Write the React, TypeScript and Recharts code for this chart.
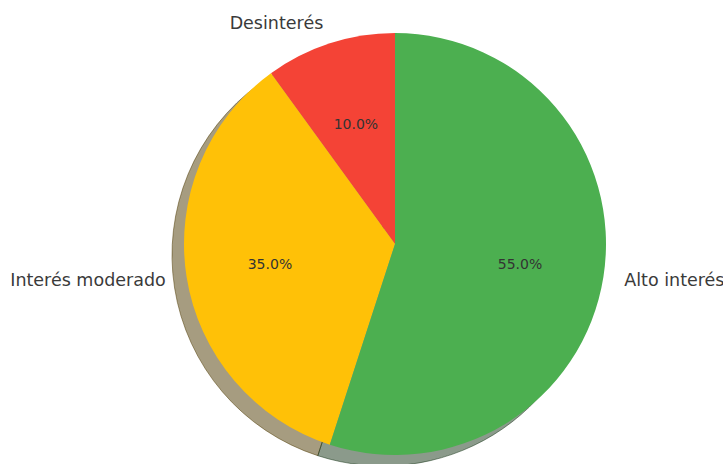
import React, { ReactElement } from "react";
import { PieChart, Pie, Cell } from "recharts";

// order is counterclockwise from the top, like the source
const categories = ["Desinterés", "Interés moderado", "Alto interés"];
const shares = [10, 35, 55];
const colors = ["#f44336", "#ffc107", "#4caf50"];

const data = categories.map((name, i) => ({ name, value: shares[i] }));

const RADIAN = Math.PI / 180;
const CX = 395;
const CY = 244;
const R = 211;

// matplotlib-ish shadow: 0.3 * face colour, half transparent
function shade(hex: string): string {
  const n = parseInt(hex.slice(1), 16);
  const r = Math.round(((n >> 16) & 255) * 0.3);
  const g = Math.round(((n >> 8) & 255) * 0.3);
  const b = Math.round((n & 255) * 0.3);
  return `rgb(${r},${g},${b})`;
}

function renderLabel(props: any) {
  const { cx, cy, midAngle, outerRadius, percent, index } = props;
  const cos = Math.cos(-midAngle * RADIAN);
  const sin = Math.sin(-midAngle * RADIAN);
  const lx = cx + outerRadius * 1.1 * cos;
  const ly = cy + outerRadius * 1.1 * sin;
  const px = cx + outerRadius * 0.6 * cos;
  const py = cy + outerRadius * 0.6 * sin;
  return (
    <g>
      <text
        x={lx}
        y={ly}
        fill="#3a3a3a"
        fontSize={17.5}
        textAnchor={cos < 0 ? "end" : "start"}
        dominantBaseline="central"
      >
        {categories[index]}
      </text>
      <text x={px} y={py} fill="#333" fontSize={14} textAnchor="middle" dominantBaseline="central">
        {(percent * 100).toFixed(1) + "%"}
      </text>
    </g>
  );
}

export default function App(): ReactElement {
  return (
    <div style={{ position: "absolute", left: 0, top: 0, fontFamily: "DejaVu Sans" }}>
      <PieChart width={723} height={464} margin={{ top: 0, right: 0, bottom: 0, left: 0 }}>
        <Pie
          data={data}
          dataKey="value"
          cx={CX - 12}
          cy={CY + 11}
          outerRadius={R}
          startAngle={90}
          endAngle={450}
          isAnimationActive={false}
          label={false}
          labelLine={false}
        >
          {data.map((d, i) => (
            <Cell key={d.name} fill={shade(colors[i])} fillOpacity={0.5} stroke={shade(colors[i])} strokeOpacity={0.5} />
          ))}
        </Pie>
        <Pie
          data={data}
          dataKey="value"
          cx={CX}
          cy={CY}
          outerRadius={R}
          startAngle={90}
          endAngle={450}
          stroke="none"
          isAnimationActive={false}
          label={renderLabel}
          labelLine={false}
        >
          {data.map((d, i) => (
            <Cell key={d.name} fill={colors[i]} stroke="none" />
          ))}
        </Pie>
      </PieChart>
    </div>
  );
}
